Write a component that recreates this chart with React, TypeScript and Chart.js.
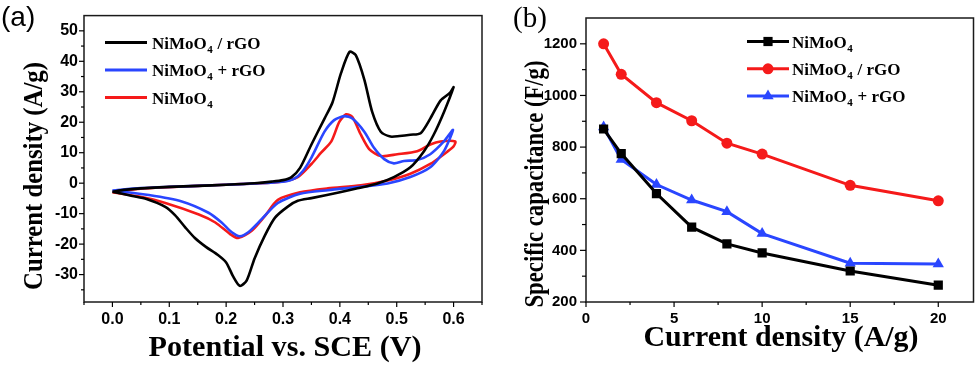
import React, { useEffect, useRef } from 'react';
import { Chart, registerables } from 'chart.js';

Chart.register(...registerables);

const SERIF = '"Liberation Serif", "Times New Roman", serif';
const SANS = '"Liberation Sans", Arial, sans-serif';

// ---------- Panel (a): cyclic voltammetry ----------
const cvCompositeLabel = 'NiMoO4 / rGO';
const cvCompositeV = [0.0, 0.02, 0.05, 0.1, 0.15, 0.2, 0.25, 0.28, 0.3, 0.315, 0.33, 0.35, 0.373, 0.387, 0.402, 0.417, 0.428, 0.443, 0.457, 0.472, 0.489, 0.505, 0.524, 0.542, 0.559, 0.577, 0.594, 0.6,
  0.583, 0.565, 0.548, 0.524, 0.495, 0.466, 0.431, 0.4, 0.35, 0.326, 0.309, 0.286, 0.268, 0.25, 0.236, 0.224, 0.212, 0.2, 0.185, 0.165, 0.145, 0.128, 0.11, 0.093, 0.06, 0.035, 0.0];
const cvCompositeI = [-2.8, -2.2, -1.7, -1.2, -0.9, -0.5, 0.0, 0.5, 1.0, 2.0, 5.0, 12.7, 21.2, 26.5, 36.1, 43.1, 42.0, 34.0, 23.3, 16.9, 15.3, 15.5, 15.9, 16.4, 21.2, 27.1, 29.7, 31.5,
  23.3, 15.9, 10.5, 5.2, 2.0, -0.1, -1.7, -3.0, -4.9, -5.8, -7.6, -11.3, -17.2, -24.7, -32.0, -33.7, -30.5, -26.0, -23.5, -21.0, -18.0, -14.5, -10.5, -7.8, -5.2, -4.2, -2.8];

const cvMixLabel = 'NiMoO4 + rGO';
const cvMixV = [0.0, 0.05, 0.1, 0.15, 0.2, 0.25, 0.3, 0.32, 0.335, 0.35, 0.373, 0.39, 0.408, 0.422, 0.443, 0.46, 0.478, 0.495, 0.513, 0.536, 0.559, 0.583, 0.599,
  0.583, 0.559, 0.524, 0.484, 0.437, 0.379, 0.33, 0.291, 0.262, 0.239, 0.224, 0.21, 0.192, 0.169, 0.122, 0.064, 0.0];
const cvMixI = [-2.4, -1.6, -1.2, -0.9, -0.5, -0.1, 0.5, 1.5, 4.0, 8.4, 16.9, 20.7, 22.0, 21.2, 16.9, 11.6, 7.9, 6.5, 7.3, 7.6, 9.5, 13.7, 17.5,
  10.5, 5.2, 2.0, -0.1, -1.2, -2.3, -3.5, -6.5, -11.9, -16.1, -17.4, -16.1, -12.9, -9.7, -6.0, -3.9, -2.4];

const cvPureLabel = 'NiMoO4';
const cvPureV = [0.0, 0.05, 0.1, 0.15, 0.2, 0.25, 0.3, 0.326, 0.35, 0.367, 0.385, 0.399, 0.411, 0.422, 0.437, 0.452, 0.472, 0.501, 0.536, 0.559, 0.577, 0.603,
  0.6, 0.583, 0.559, 0.524, 0.484, 0.437, 0.379, 0.33, 0.291, 0.268, 0.245, 0.221, 0.207, 0.181, 0.152, 0.093, 0.047, 0.0];
const cvPureI = [-3.0, -1.8, -1.3, -0.9, -0.5, -0.1, 0.6, 2.0, 6.3, 10.0, 13.7, 20.1, 22.6, 21.7, 15.9, 11.1, 8.9, 9.5, 10.5, 12.7, 13.7, 13.7,
  12.1, 9.5, 6.3, 3.1, 0.9, -0.7, -1.7, -3.0, -5.5, -10.8, -15.6, -18.0, -16.7, -12.9, -10.3, -6.5, -4.4, -3.0];

const cvXMajor = [0, 0.1, 0.2, 0.3, 0.4, 0.5, 0.6];
const cvXMinor = [-0.05, 0.05, 0.15, 0.25, 0.35, 0.45, 0.55, 0.65];
const cvYMajor = [-30, -20, -10, 0, 10, 20, 30, 40, 50];
const cvYMinor = [-35, -25, -15, -5, 5, 15, 25, 35, 45];

// ---------- Panel (b): rate capability ----------
const rateCurrent = [1, 2, 4, 6, 8, 10, 15, 20];
const capPureLabel = 'NiMoO4';
const capPure = [870, 775, 620, 490, 425, 390, 320, 265];
const capCompositeLabel = 'NiMoO4 / rGO';
const capComposite = [1200, 1082, 972, 902, 815, 773, 652, 592];
const capMixLabel = 'NiMoO4 + rGO';
const capMix = [878, 752, 655, 595, 550, 465, 350, 347];

const rateXMajor = [0, 5, 10, 15, 20];
const rateXMinor = [2.5, 7.5, 12.5, 17.5];
const capYMajor = [200, 400, 600, 800, 1000, 1200];
const capYMinor = [300, 500, 700, 900, 1100];

const BLACK = '#000000';
const RED = '#f51a1a';
const BLUE = '#2a46ff';

const toXY = (xs: number[], ys: number[]) => xs.map((x, i) => ({ x, y: ys[i] }));
const isIn = (arr: number[], v: number) => arr.some((a) => Math.abs(a - v) < 1e-9);

function drawFormula(ctx: CanvasRenderingContext2D, text: string, x: number, y: number, size: number) {
  // draws text with the "4" after NiMoO as a subscript
  ctx.save();
  ctx.fillStyle = '#000';
  ctx.textBaseline = 'alphabetic';
  ctx.textAlign = 'left';
  const idx = text.indexOf('NiMoO4');
  let cx = x;
  const main = `bold ${size}px ${SERIF}`;
  const sub = `bold ${Math.round(size * 0.62)}px ${SERIF}`;
  if (idx >= 0) {
    const before = text.slice(0, idx + 5);
    const after = text.slice(idx + 6);
    ctx.font = main;
    ctx.fillText(before, cx, y);
    cx += ctx.measureText(before).width;
    ctx.font = sub;
    ctx.fillText('4', cx + 0.5, y + 4);
    cx += ctx.measureText('4').width + 1;
    ctx.font = main;
    ctx.fillText(after, cx, y);
  } else {
    ctx.font = main;
    ctx.fillText(text, cx, y);
  }
  ctx.restore();
}

function drawTitle(ctx: CanvasRenderingContext2D, text: string, cx: number, cy: number, size: number, len: number, vertical: boolean) {
  ctx.save();
  ctx.font = `bold ${size}px ${SERIF}`;
  ctx.fillStyle = '#000';
  ctx.textAlign = 'center';
  ctx.textBaseline = 'alphabetic';
  const w = ctx.measureText(text).width;
  ctx.translate(cx, cy);
  if (vertical) ctx.rotate(-Math.PI / 2);
  ctx.scale(len / w, 1);
  ctx.fillText(text, 0, 0);
  ctx.restore();
}

function drawAxisTicks(chart: any, major: number[], minor: number[], axis: 'x' | 'y', majLen: number, minLen: number) {
  const { ctx, chartArea } = chart;
  const s = chart.scales[axis];
  ctx.save();
  ctx.strokeStyle = '#000';
  ctx.lineWidth = 1.2;
  const draw = (v: number, len: number) => {
    const p = s.getPixelForValue(v);
    ctx.beginPath();
    if (axis === 'x') {
      ctx.moveTo(p, chartArea.bottom);
      ctx.lineTo(p, chartArea.bottom + len);
    } else {
      ctx.moveTo(chartArea.left, p);
      ctx.lineTo(chartArea.left - len, p);
    }
    ctx.stroke();
  };
  major.forEach((v) => draw(v, majLen));
  minor.forEach((v) => draw(v, minLen));
  ctx.restore();
}

function drawFrame(chart: any) {
  const { ctx, chartArea } = chart;
  ctx.save();
  ctx.strokeStyle = '#1a1a1a';
  ctx.lineWidth = 1.5;
  ctx.strokeRect(chartArea.left, chartArea.top, chartArea.right - chartArea.left, chartArea.bottom - chartArea.top);
  ctx.restore();
}

function buildTicks(major: number[], minor: number[]) {
  return (scale: any) => {
    scale.ticks = [...major, ...minor].sort((a, b) => a - b).map((v) => ({ value: v }));
  };
}

export default function App() {
  const refA = useRef<HTMLCanvasElement>(null);
  const refB = useRef<HTMLCanvasElement>(null);

  useEffect(() => {
    const decorA = {
      id: 'decorA',
      afterDraw(chart: any) {
        const ctx = chart.ctx as CanvasRenderingContext2D;
        drawFrame(chart);
        drawAxisTicks(chart, cvXMajor, cvXMinor, 'x', 5, 3);
        drawAxisTicks(chart, cvYMajor, cvYMinor, 'y', 5, 3);
        // panel label
        ctx.save();
        ctx.font = `28px ${SANS}`;
        ctx.fillStyle = '#000';
        ctx.textBaseline = 'alphabetic';
        ctx.fillText('(a)', 1, 26);
        ctx.restore();
        drawTitle(ctx, 'Potential vs. SCE (V)', 285, 356, 30, 273, false);
        drawTitle(ctx, 'Current density (A/g)', 42, 176, 27, 228, true);
        // legend
        const items = [
          { label: cvCompositeLabel, color: BLACK },
          { label: cvMixLabel, color: BLUE },
          { label: cvPureLabel, color: RED },
        ];
        items.forEach((it, i) => {
          const y = 42.5 + i * 27.5;
          ctx.save();
          ctx.strokeStyle = it.color;
          ctx.lineWidth = 3;
          ctx.beginPath();
          ctx.moveTo(105, y);
          ctx.lineTo(147, y);
          ctx.stroke();
          ctx.restore();
          drawFormula(ctx, it.label, 152, y + 6, 17);
        });
      },
    };

    const decorB = {
      id: 'decorB',
      afterDraw(chart: any) {
        const ctx = chart.ctx as CanvasRenderingContext2D;
        drawFrame(chart);
        drawAxisTicks(chart, rateXMajor, rateXMinor, 'x', 5, 3);
        drawAxisTicks(chart, capYMajor, capYMinor, 'y', 6, 4);
        ctx.save();
        ctx.font = `29px ${SERIF}`;
        ctx.fillStyle = '#000';
        ctx.textBaseline = 'alphabetic';
        ctx.fillText('(b)', 23, 27);
        ctx.restore();
        drawTitle(ctx, 'Current density (A/g)', 291, 346, 30, 275, false);
        drawTitle(ctx, 'Specific capacitance (F/g)', 53, 184, 27, 247, true);
        const items = [
          { label: capPureLabel, color: BLACK, shape: 'rect' },
          { label: capCompositeLabel, color: RED, shape: 'circle' },
          { label: capMixLabel, color: BLUE, shape: 'triangle' },
        ];
        items.forEach((it, i) => {
          const y = 41.5 + i * 27.3;
          ctx.save();
          ctx.strokeStyle = it.color;
          ctx.fillStyle = it.color;
          ctx.lineWidth = 3;
          ctx.beginPath();
          ctx.moveTo(257, y);
          ctx.lineTo(299, y);
          ctx.stroke();
          const mx = 278;
          ctx.beginPath();
          if (it.shape === 'rect') {
            ctx.rect(mx - 4.6, y - 4.6, 9.2, 9.2);
          } else if (it.shape === 'circle') {
            ctx.arc(mx, y, 5.5, 0, Math.PI * 2);
          } else {
            const r = 6.5;
            ctx.moveTo(mx, y - r);
            ctx.lineTo(mx + r * Math.sin((2 * Math.PI) / 3), y - r * Math.cos((2 * Math.PI) / 3));
            ctx.lineTo(mx + r * Math.sin((4 * Math.PI) / 3), y - r * Math.cos((4 * Math.PI) / 3));
            ctx.closePath();
          }
          ctx.fill();
          ctx.restore();
          drawFormula(ctx, it.label, 302, y + 6, 17);
        });
      },
    };

    const chartA = new Chart(refA.current as HTMLCanvasElement, {
      type: 'scatter',
      data: {
        datasets: [
          { label: cvCompositeLabel, data: toXY(cvCompositeV, cvCompositeI), borderColor: BLACK, showLine: true, pointRadius: 0, borderWidth: 2.6, tension: 0.25 },
          { label: cvMixLabel, data: toXY(cvMixV, cvMixI), borderColor: BLUE, showLine: true, pointRadius: 0, borderWidth: 2.6, tension: 0.25 },
          { label: cvPureLabel, data: toXY(cvPureV, cvPureI), borderColor: RED, showLine: true, pointRadius: 0, borderWidth: 2.6, tension: 0.25 },
        ],
      },
      options: {
        responsive: false,
        devicePixelRatio: 1,
        animation: false,
        layout: { padding: { left: 0, right: 5, top: 7, bottom: 0 } },
        plugins: { legend: { display: false }, tooltip: { enabled: false } },
        scales: {
          x: {
            type: 'linear',
            min: -0.05,
            max: 0.65,
            afterBuildTicks: buildTicks(cvXMajor, cvXMinor),
            afterFit: (s: any) => { s.height = 63; },
            grid: { display: false, drawTicks: false },
            border: { display: false },
            ticks: {
              autoSkip: false,
              maxRotation: 0,
              padding: 8,
              color: '#000',
              font: { family: SANS, size: 16, weight: 'bold' },
              callback: (v: any) => (isIn(cvXMajor, Number(v)) ? Number(v).toFixed(1) : ''),
            },
          },
          y: {
            type: 'linear',
            min: -39,
            max: 55,
            afterBuildTicks: buildTicks(cvYMajor, cvYMinor),
            afterFit: (s: any) => { s.width = 84; },
            grid: { display: false, drawTicks: false },
            border: { display: false },
            ticks: {
              autoSkip: false,
              padding: 6,
              color: '#000',
              font: { family: SANS, size: 16, weight: 'bold' },
              callback: (v: any) => (isIn(cvYMajor, Number(v)) ? String(v) : ''),
            },
          },
        },
      },
      plugins: [decorA],
    } as any);

    const chartB = new Chart(refB.current as HTMLCanvasElement, {
      type: 'scatter',
      data: {
        datasets: [
          { label: capPureLabel, data: toXY(rateCurrent, capPure), borderColor: BLACK, backgroundColor: BLACK, showLine: true, pointStyle: 'rect', pointRadius: 6.5, pointBorderWidth: 0, borderWidth: 3, tension: 0 },
          { label: capCompositeLabel, data: toXY(rateCurrent, capComposite), borderColor: RED, backgroundColor: RED, showLine: true, pointStyle: 'circle', pointRadius: 5.5, pointBorderWidth: 0, borderWidth: 3, tension: 0 },
          { label: capMixLabel, data: toXY(rateCurrent, capMix), borderColor: BLUE, backgroundColor: BLUE, showLine: true, pointStyle: 'triangle', pointRadius: 6.5, pointBorderWidth: 0, borderWidth: 3, tension: 0 },
        ],
      },
      options: {
        responsive: false,
        devicePixelRatio: 1,
        animation: false,
        layout: { padding: { left: 0, right: 4, top: 12, bottom: 0 } },
        plugins: { legend: { display: false }, tooltip: { enabled: false } },
        scales: {
          x: {
            type: 'linear',
            min: 0,
            max: 22,
            afterBuildTicks: buildTicks(rateXMajor, rateXMinor),
            afterFit: (s: any) => { s.height = 63; },
            grid: { display: false, drawTicks: false },
            border: { display: false },
            ticks: {
              autoSkip: false,
              maxRotation: 0,
              padding: 8,
              color: '#000',
              font: { family: SANS, size: 15, weight: 'bold' },
              callback: (v: any) => (isIn(rateXMajor, Number(v)) ? String(v) : ''),
            },
          },
          y: {
            type: 'linear',
            min: 200,
            max: 1300,
            afterBuildTicks: buildTicks(capYMajor, capYMinor),
            afterFit: (s: any) => { s.width = 96; },
            grid: { display: false, drawTicks: false },
            border: { display: false },
            ticks: {
              autoSkip: false,
              padding: 9,
              color: '#000',
              font: { family: SANS, size: 15, weight: 'bold' },
              callback: (v: any) => (isIn(capYMajor, Number(v)) ? String(v) : ''),
            },
          },
        },
      },
      plugins: [decorB],
    } as any);

    return () => {
      chartA.destroy();
      chartB.destroy();
    };
  }, []);

  return (
    <div style={{ position: 'absolute', left: 0, top: 0, width: 980, height: 365, background: '#fff' }}>
      <canvas ref={refA} width={490} height={365} style={{ position: 'absolute', left: 0, top: 0, width: 490, height: 365 }} />
      <canvas ref={refB} width={490} height={365} style={{ position: 'absolute', left: 490, top: 0, width: 490, height: 365 }} />
    </div>
  );
}
